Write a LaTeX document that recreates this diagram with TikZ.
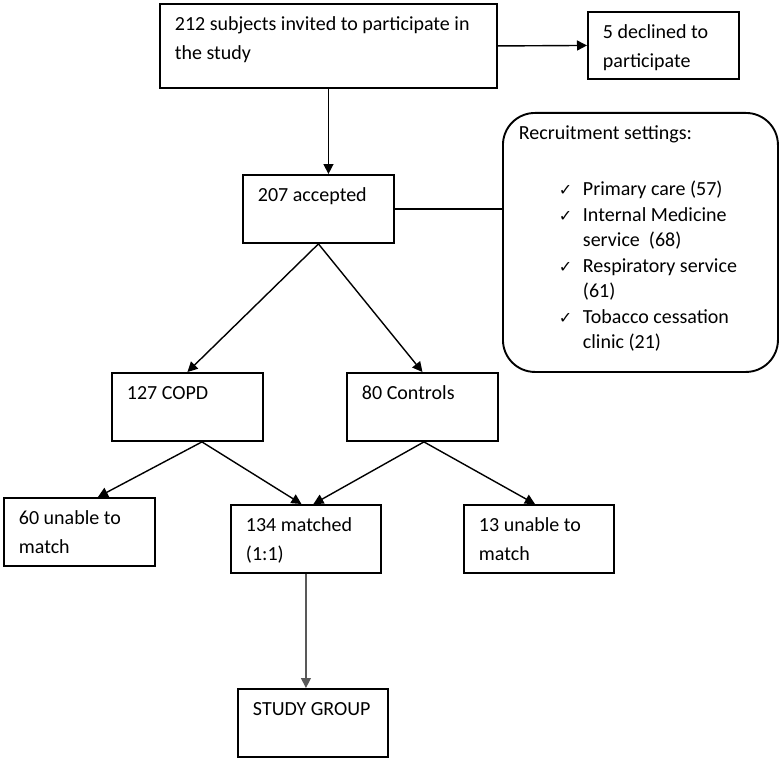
\documentclass[tikz,border=0pt]{standalone}
\usepackage{fontspec}
\setmainfont{Carlito}
\newfontfamily\dejavu{DejaVu Sans}
\usetikzlibrary{arrows.meta,calc}
\newcommand{\bxt}[3]{\parbox[t][#2][t]{#1}{\fontsize{20}{29}\selectfont\raggedright\vspace*{6.5pt}\strut #3}}
\newcommand{\chk}{\makebox[24pt][l]{\dejavu\fontsize{16}{16}\selectfont ✓}}
\tikzset{
  box/.style={draw, line width=1.9pt, inner sep=0pt, inner xsep=15pt, anchor=north west},
  rbox/.style={draw, line width=1.9pt, rounded corners=32pt, inner sep=0pt, inner xsep=16pt, anchor=north west},
  arr/.style={line width=1.4pt, -{Triangle[width=10pt,length=10pt]}},
  ln/.style={line width=1.4pt},
  grayln/.style={line width=1.1pt, draw=black!65}
}
\begin{document}
\begin{tikzpicture}[x=1pt,y=-1pt]
\useasboundingbox (0,0) rectangle (780,760);
\node[box] (top) at (159,3) {\bxt{307pt}{84pt}{\mbox{212 subjects invited to participate in}\\the study}};
\node[box] (decl) at (587,11) {\bxt{121pt}{67pt}{\mbox{5 declined to}\\participate}};
\node[box] (acc) at (242,174) {\bxt{121pt}{68pt}{207 accepted}};
\node[rbox] (rec) at (502,112) {\parbox[t][259pt][t]{243pt}{\fontsize{20}{25.5}\selectfont\raggedright\vspace*{9pt}\strut Recruitment settings:\par\vspace{30.5pt}%
\hspace*{40pt}\chk Primary care (57)\\
\hspace*{40pt}\chk Internal Medicine\\
\hspace*{64pt}service~ (68)\\
\hspace*{40pt}\chk Respiratory service\\
\hspace*{64pt}(61)\\
\hspace*{40pt}\chk Tobacco cessation\\
\hspace*{64pt}clinic (21)}};
\node[box] (copd) at (111,372) {\bxt{121pt}{68pt}{127 COPD}};
\node[box] (ctrl) at (346,372) {\bxt{121pt}{68pt}{80 Controls}};
\node[box] (u60) at (3,497) {\bxt{121pt}{68pt}{\mbox{60 unable to}\\match}};
\node[box] (match) at (230,504) {\bxt{120pt}{68pt}{134 matched\\(1:1)}};
\node[box] (u13) at (463,504) {\bxt{120pt}{68pt}{\mbox{13 unable to}\\match}};
\node[box] (study) at (237,688) {\bxt{120pt}{68pt}{STUDY GROUP}};
\draw[arr] (top.south) -- (top.south |- acc.north);
\draw[arr] (top.east) -- (decl.west);
\draw[ln] (acc.east) -- (acc.east -| rec.west);
\draw[arr] (acc.south) -- (copd.north);
\draw[arr] (acc.south) -- (ctrl.north);
\draw[arr] ($(copd.south)+(14.5,0)$) -- ($(u60.north)+(18.5,0)$);
\draw[arr] ($(copd.south)+(14.5,0)$) -- ($(match.north)+(-4.5,0)$);
\draw[arr] ($(ctrl.south)+(1.5,0)$) -- ($(match.north)+(7.5,0)$);
\draw[arr] ($(ctrl.south)+(1.5,0)$) -- ($(u13.north)+(-4,0)$);
\draw[arr,grayln] (match.south) -- (match.south |- study.north);
\end{tikzpicture}
\end{document}
